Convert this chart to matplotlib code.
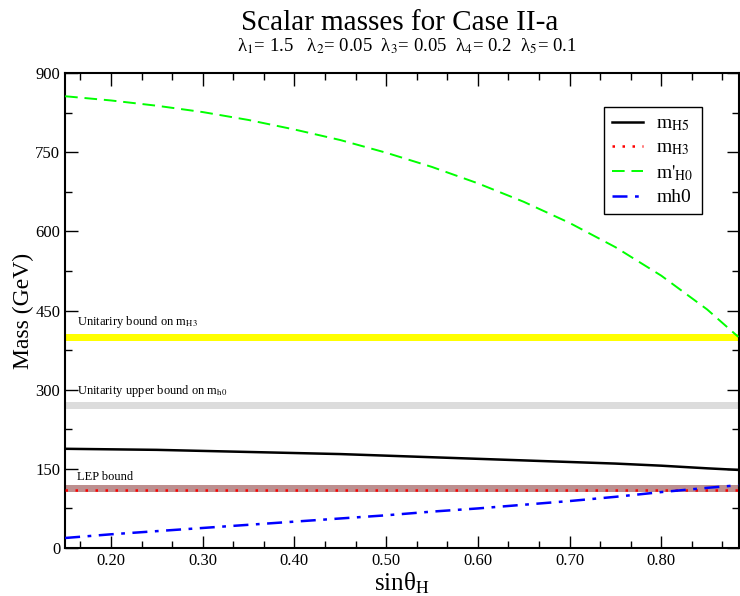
import matplotlib
matplotlib.use("Agg")
import matplotlib.pyplot as plt
from matplotlib.ticker import AutoMinorLocator, FormatStrFormatter

plt.rcParams['font.family'] = ['Liberation Serif', 'DejaVu Serif']
plt.rcParams['mathtext.fontset'] = 'stix'

# sin(theta_H) sample points
sin_theta = [0.15, 0.20, 0.25, 0.30, 0.35, 0.40, 0.45, 0.50, 0.55,
             0.60, 0.65, 0.70, 0.75, 0.80, 0.85, 0.884]
m_h5 = [188, 187, 186, 184, 182, 180, 178, 175, 172,
        169, 166, 163, 160, 156, 151, 148]
m_h3 = [109] * len(sin_theta)
m_h0p = [856, 848, 838, 826, 811, 793, 773, 749, 722,
         691, 656, 616, 570, 516, 452, 400]
m_h0 = [19, 26, 32, 38, 44, 50, 56, 62, 69,
        75, 82, 89, 97, 106, 114, 119]

# bands: (low, high, colour, label, label_y)
bands = [
    (392, 405, '#ffff00', r'Unitariry bound on m$_{\rm H3}$', 413),
    (264, 276, '#dcdcdc', r'Unitarity upper bound on m$_{\rm h0}$', 282),
    (107, 120, '#bc8f8f', 'LEP bound', 124),
]

fig = plt.figure(figsize=(7.4, 5.96), dpi=100)
ax = fig.add_axes([0.088, 0.0805, 0.911, 0.797])

for lo, hi, col, txt, ty in bands:
    ax.axhspan(lo, hi, color=col, lw=0, zorder=1)
    ax.text(0.163, ty, txt, fontsize=9, va='bottom', ha='left')

ax.plot(sin_theta, m_h5, color='black', lw=1.8, label=r'm$_{\rm H5}$', zorder=3)
ax.plot(sin_theta, m_h3, color='red', lw=1.8, ls=(0, (1, 3)), label=r'm$_{\rm H3}$', zorder=3)
ax.plot(sin_theta, m_h0p, color='#00ff00', lw=1.4, ls=(0, (6.5, 3.5)), label=r"m$'_{\rm H0}$", zorder=3)
ax.plot(sin_theta, m_h0, color='blue', lw=1.8, ls=(0, (6, 3, 1.5, 3)), label='mh0', zorder=3)

ax.set_xlim(0.15, 0.885)
ax.set_ylim(0, 900)
ax.set_yticks(range(0, 901, 150))
ax.set_xticks([0.2, 0.3, 0.4, 0.5, 0.6, 0.7, 0.8])
ax.xaxis.set_major_formatter(FormatStrFormatter('%.2f'))
ax.xaxis.set_minor_locator(AutoMinorLocator(3))
ax.yaxis.set_minor_locator(AutoMinorLocator(2))
ax.tick_params(which='both', direction='in', top=True, right=True, labelsize=12)
ax.tick_params(which='major', length=9, width=1)
ax.tick_params(which='minor', length=5, width=1)
for s in ax.spines.values():
    s.set_linewidth(1.5)

ax.set_xlabel(r'sinθ$_{\rm H}$', fontsize=18, labelpad=1)
ax.set_ylabel('Mass (GeV)', fontsize=17, labelpad=1)

leg = ax.legend(loc='upper right', bbox_to_anchor=(0.944, 0.928), borderaxespad=0,
                fontsize=14, fancybox=False, edgecolor='black', framealpha=1,
                handlelength=1.6, handletextpad=0.7, borderpad=0.4, labelspacing=0.3)
leg.get_frame().set_linewidth(1)

fig.text(0.54, 0.962, 'Scalar masses for Case II-a', fontsize=21, ha='center', va='center')
fig.text(0.55, 0.922,
         r'λ$_1$= 1.5   λ$_2$= 0.05  λ$_3$= 0.05  λ$_4$= 0.2  λ$_5$= 0.1',
         fontsize=13.5, ha='center', va='center')

fig.savefig('out.png', dpi=100)
